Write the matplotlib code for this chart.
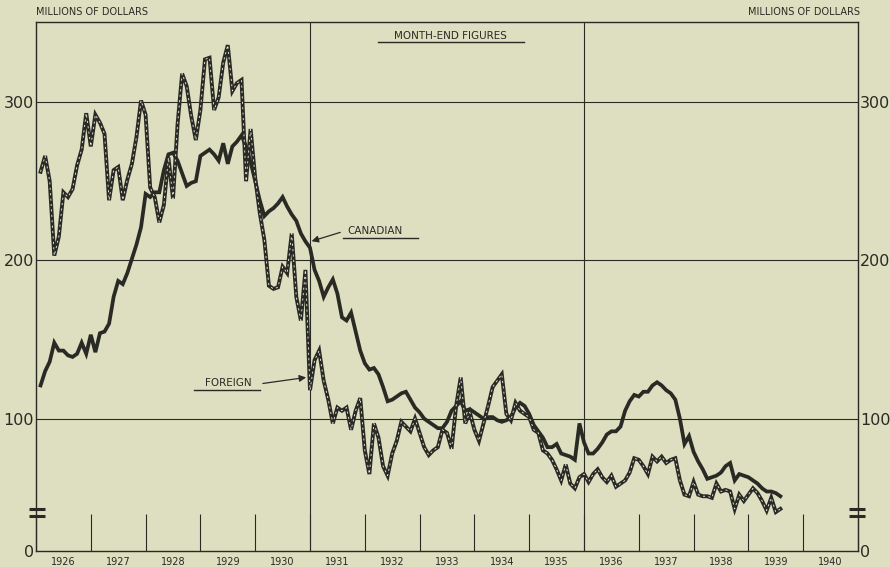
"""Canadian vs foreign balances, month-end figures 1926-1939"""
import matplotlib
matplotlib.use('Agg')
import matplotlib.pyplot as plt
import numpy as np

BG = '#dddfc0'
INK = '#2a2a25'

plt.rcParams.update({
    'font.family': 'DejaVu Sans',
    'text.color': INK,
    'axes.edgecolor': INK,
    'xtick.color': INK,
    'ytick.color': INK,
})

# month-end values, Jan 1926 .. Jul 1939 (millions of dollars)
canadian = [
    121, 130, 136, 148, 143, 143, 140, 139, 141, 148, 141, 153,
    142, 154, 155, 160, 177, 187, 185, 192, 201, 210, 221, 242,
    240, 243, 243, 257, 267, 268, 263, 255, 247, 249, 250, 266,
    268, 270, 267, 263, 274, 261, 272, 275, 279, 272, 262, 250,
    238, 228, 231, 233, 236, 240, 234, 229, 225, 217, 212, 208,
    194, 187, 177, 183, 188, 179, 164, 162, 167, 155, 143, 135,
    131, 132, 128, 120, 111, 112, 114, 116, 117, 112, 107, 104,
    100, 98, 96, 94, 94, 98, 105, 108, 111, 105, 106, 104,
    102, 100, 101, 101, 99, 98, 99, 101, 107, 110, 108, 103,
    96, 92, 88, 82, 82, 84, 78, 77, 76, 74, 97, 85,
    78, 78, 81, 85, 90, 92, 92, 95, 105, 111, 115, 114,
    117, 117, 121, 123, 121, 118, 116, 112, 100, 84, 89, 79,
    73, 68, 62, 63, 64, 66, 70, 72, 61, 65, 64, 63,
    61, 59, 56, 54, 54, 53, 51,
]
foreign = [
    256, 266, 250, 203, 215, 243, 240, 245, 260, 270, 293, 272,
    292, 287, 280, 238, 257, 259, 238, 251, 261, 278, 301, 292,
    246, 240, 224, 235, 265, 239, 286, 318, 310, 291, 276, 295,
    327, 328, 295, 303, 325, 336, 307, 312, 314, 250, 283, 252,
    230, 213, 184, 182, 183, 196, 192, 217, 177, 162, 194, 118,
    137, 143, 124, 112, 97, 107, 105, 107, 93, 105, 113, 80,
    65, 97, 88, 70, 64, 78, 86, 98, 95, 92, 100, 91,
    82, 77, 80, 82, 93, 91, 81, 108, 126, 97, 104, 93,
    86, 97, 108, 120, 124, 128, 103, 99, 110, 105, 103, 101,
    93, 91, 80, 78, 74, 68, 61, 71, 59, 56, 63, 65,
    60, 65, 68, 63, 60, 64, 57, 59, 61, 66, 75, 74,
    70, 65, 76, 73, 76, 72, 74, 75, 61, 52, 51, 60,
    52, 51, 51, 50, 59, 54, 55, 54, 43, 52, 48, 52,
    56, 53, 48, 42, 50, 41, 43,
]
start_year = 1926
years = list(range(1926, 1941))
y_ticks = [100, 200, 300]

# axis is broken below 100: the bottom edge is labelled 0
y_bottom = 16.4
y_top = 350.6

x = start_year + np.arange(1, len(canadian) + 1) / 12

fig = plt.figure(figsize=(8.9, 5.67), dpi=100, facecolor=BG)
ax = fig.add_axes([36 / 890, 16 / 567, 822 / 890, 529 / 567], facecolor=BG)

ax.set_xlim(years[0], years[-1] + 1)
ax.set_ylim(y_bottom, y_top)

# grid: horizontal at each 100, vertical at 1931 and 1936
for v in y_ticks:
    ax.axhline(v, color=INK, lw=0.8, zorder=1)
for yr in (1931, 1936):
    ax.axvline(yr, color=INK, lw=0.8, zorder=1)

ax.plot(x, canadian, color=INK, lw=2.7, solid_joinstyle='miter', zorder=3)
ax.plot(x, foreign, color=INK, lw=2.8, solid_joinstyle='miter', zorder=4)
ax.plot(x, foreign, color='#f4f4ea', lw=0.6, dashes=(2.5, 4), zorder=5)

for s in ax.spines.values():
    s.set_linewidth(1.0)

# year ticks drawn inwards, labels centred in each year
ax.set_xticks(years + [years[-1] + 1])
ax.set_xticklabels([])
ax.tick_params(axis='x', which='major', direction='in', length=26.5, width=0.8)
ax.set_xticks([y + 0.5 for y in years], minor=True)
ax.set_xticklabels([str(y) for y in years], minor=True, fontsize=7)
ax.tick_params(axis='x', which='minor', length=0, pad=4)

ax.set_yticks([y_bottom] + y_ticks)
ax.set_yticklabels(['0'] + [str(v) for v in y_ticks], fontsize=11.5)
ax.tick_params(axis='y', length=0, pad=1.5, labelright=True, right=False)

# axis break marks
for yb in (0.066, 0.079):
    for xs in ((-0.009, 0.011), (0.989, 1.009)):
        ax.plot(xs, [yb, yb], transform=ax.transAxes, color=INK, lw=2.2,
                solid_capstyle='butt', clip_on=False, zorder=6)

fig.text(36 / 890, 1 - 12 / 567, 'MILLIONS OF DOLLARS', fontsize=7, ha='left', va='center')
fig.text(860 / 890, 1 - 12 / 567, 'MILLIONS OF DOLLARS', fontsize=7, ha='right', va='center')

# labels
ax.text(1933.57, 342, 'MONTH-END FIGURES', fontsize=7.5, ha='center', va='center')
ax.plot([1932.24, 1934.9], [338, 338], color=INK, lw=1.0)

ax.text(1931.69, 218.5, 'CANADIAN', fontsize=7.5, ha='left', va='center')
ax.plot([1931.6, 1932.97], [214, 214], color=INK, lw=1.0)
ax.annotate('', xy=(1930.98, 211.6), xytext=(1931.6, 218.2),
            arrowprops=dict(arrowstyle='-|>', color=INK, lw=0.9, mutation_scale=10))

ax.text(1929.51, 122.5, 'FOREIGN', fontsize=7.5, ha='center', va='center')
ax.plot([1928.88, 1930.09], [118, 118], color=INK, lw=1.0)
ax.annotate('', xy=(1930.98, 126.3), xytext=(1930.09, 122),
            arrowprops=dict(arrowstyle='-|>', color=INK, lw=0.9, mutation_scale=10))

fig.savefig('out.png', dpi=100, facecolor=fig.get_facecolor())
